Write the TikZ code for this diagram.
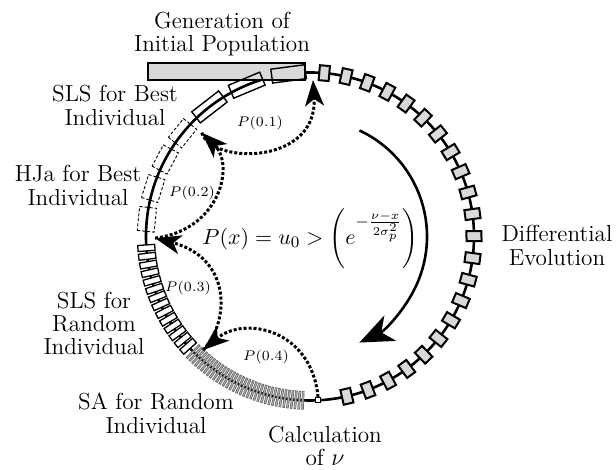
\documentclass[tikz,border=0pt]{standalone}
\usepackage{xcolor}
\usepackage{tikz}
\usetikzlibrary{arrows.meta}
\definecolor{boxgray}{gray}{0.85}
\definecolor{sagray}{gray}{0.72}
\tikzset{
  ring/.style={line width=1.3pt},
  genbar/.style={draw, fill=boxgray, line width=0.65pt, inner sep=0pt,
                 minimum width=78.5pt, minimum height=8.5pt},
  debox/.style={draw, fill=boxgray, line width=1pt, inner sep=0pt,
                minimum width=7.5pt, minimum height=5pt},
  slsbest/.style={draw, line width=0.7pt, inner sep=0pt,
                  minimum width=7pt, minimum height=17pt},
  hjabox/.style={draw, dash pattern=on 1.5pt off 1pt, line width=0.45pt,
                 inner sep=0pt, minimum width=8.5pt, minimum height=12pt},
  slsrnd/.style={draw, fill=white, line width=0.65pt, inner sep=0pt,
                 minimum width=8.5pt, minimum height=3pt},
  sabox/.style={draw=black!60, fill=sagray, line width=0.35pt, inner sep=0pt,
                minimum width=9pt, minimum height=0.9pt},
  calcbox/.style={draw, fill=white, line width=0.6pt, inner sep=0pt,
                  minimum size=2.6pt},
  lbl/.style={align=center, font=\fontsize{11.6pt}{11.7pt}\selectfont},
  plbl/.style={font=\fontsize{7.4pt}{9pt}\selectfont},
  probarrow/.style={line width=1.5pt, dash pattern=on 1.5pt off 1pt,
                    -{Stealth[length=13pt, width=9.5pt, inset=3.5pt]}},
  cyclearrow/.style={line width=1.3pt,
                     -{Stealth[length=17pt, width=14pt, inset=5pt]}},
}

\begin{document}
\begin{tikzpicture}[x=0.5pt, y=0.5pt]
\useasboundingbox (-310,-233.5) rectangle (306,236.5);
% the loop itself
\draw[ring] (0,0) circle[radius=164];
\node[genbar] (gen) at (-83.5,165) {};
% Differential Evolution, right half
\foreach \i [evaluate=\i as \a using 85-\i*7.714] in {0,...,21}
  \node[debox, rotate=\a] (de-\i) at (\a:164) {};
% local searches, left half
\foreach \a [count=\i] in {97.5,112.7,127.8}
  \node[slsbest, rotate=\a] (slsb-\i) at (\a:164) {};
\foreach \a [count=\i] in {141,152,163,174}
  \node[hjabox, rotate=\a] (hja-\i) at (\a:164) {};
\foreach \i [evaluate=\i as \a using 184+\i*2.923] in {0,...,13}
  \node[slsrnd, rotate=\a] (slsr-\i) at (\a:164) {};
\foreach \i [evaluate=\i as \a using 224.6+\i*1.262] in {0,...,34}
  \node[sabox, rotate=\a] (sa-\i) at (\a:164) {};
\node[calcbox] (calc) at (272.8:164) {};
% where the dotted jumps land
\coordinate (j0) at (88.9:156.5);
\coordinate (j1) at (136.2:150);
\coordinate (j2) at (180.6:155);
\coordinate (j3) at (226.7:156);
\draw[probarrow] (calc.north) .. controls (2,-93.5) and (-65,-78.5) .. (j3);
\draw[probarrow] (j3) .. controls (-80,-85.5) and (-78,-21.5) .. (j2);
\draw[probarrow] (j2) .. controls (-90,6.5) and (-75,71.5) .. (j1);
\draw[probarrow] (j1) .. controls (-98,71.5) and (8,71.5) .. (j0);
\draw[cyclearrow] (65:117) arc[start angle=65, end angle=-65, radius=117];
% texts
\node[plbl] (p1) at (-50,113) {$P(0.1)$};
\node[plbl] (p2) at (-118,43.5) {$P(0.2)$};
\node[plbl] (p3) at (-122,-51.5) {$P(0.3)$};
\node[plbl] (p4) at (-44,-120.5) {$P(0.4)$};
\node[lbl, font=\fontsize{10.95pt}{13pt}\selectfont] (rule) at (0.5,-2.5)
  {$P(x) = u_0 > \left(e^{-\frac{\nu-x}{2\sigma_p^2}}\right)$};
\node[lbl] (genlbl) at (-88,202.3) {Generation of\\Initial Population};
\node[lbl] (slsblbl) at (-195,131.1) {SLS for Best\\Individual};
\node[lbl] (hjalbl) at (-232,51.2) {HJa for Best\\Individual};
\node[lbl] (slsrlbl) at (-216,-86.9) {SLS for\\Random\\Individual};
\node[lbl] (salbl) at (-154,-176.9) {SA for Random\\Individual};
\node[lbl] (calclbl) at (15,-209.4) {Calculation\\of $\nu$};
\node[lbl] (delbl) at (247,-8.9) {Differential\\Evolution};
\end{tikzpicture}
\end{document}
